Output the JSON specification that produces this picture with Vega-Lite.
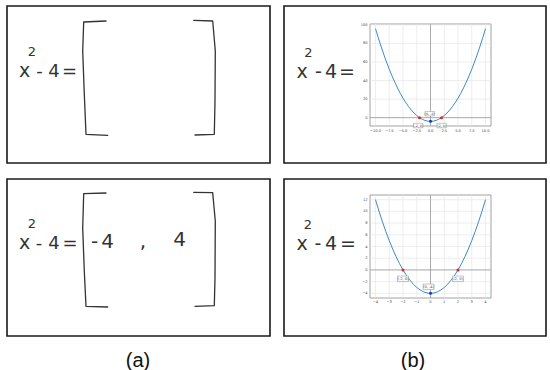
{
  "$schema": "https://vega.github.io/schema/vega-lite/v6.json",
  "background": "white",
  "padding": {"left": 6, "top": 5, "right": 0, "bottom": 0},
  "autosize": {"type": "pad"},
  "spacing": 14,
  "config": {
    "view": {"stroke": "#1a1a1a", "strokeWidth": 1.6},
    "axis": {"disable": true},
    "text": {"font": "DejaVu Sans", "color": "#333"}
  },
  "datasets": {
    "bracketsA1": [
      {"b": "L", "i": 0, "x": 99, "y": 15}, {"b": "L", "i": 1, "x": 76.7, "y": 16}, {"b": "L", "i": 2, "x": 75.7, "y": 45}, {"b": "L", "i": 3, "x": 77.3, "y": 88}, {"b": "L", "i": 4, "x": 79, "y": 128.3}, {"b": "L", "i": 5, "x": 100.7, "y": 129.3},
      {"b": "R", "i": 0, "x": 186.7, "y": 14.3}, {"b": "R", "i": 1, "x": 205.7, "y": 15}, {"b": "R", "i": 2, "x": 208.3, "y": 45}, {"b": "R", "i": 3, "x": 208, "y": 95}, {"b": "R", "i": 4, "x": 207.3, "y": 128.3}, {"b": "R", "i": 5, "x": 188, "y": 129}
    ],
    "bracketsA2": [
      {"b": "L", "i": 0, "x": 99, "y": 14}, {"b": "L", "i": 1, "x": 76.7, "y": 14.7}, {"b": "L", "i": 2, "x": 75.7, "y": 49}, {"b": "L", "i": 3, "x": 77.3, "y": 92.3}, {"b": "L", "i": 4, "x": 79, "y": 127.3}, {"b": "L", "i": 5, "x": 100.7, "y": 128},
      {"b": "R", "i": 0, "x": 186.7, "y": 13.3}, {"b": "R", "i": 1, "x": 205.7, "y": 13.7}, {"b": "R", "i": 2, "x": 208.3, "y": 42.3}, {"b": "R", "i": 3, "x": 208, "y": 99}, {"b": "R", "i": 4, "x": 207.3, "y": 126.7}, {"b": "R", "i": 5, "x": 188, "y": 127.3}
    ],
    "b1curve": [
      {"x": -10, "y": 96}, {"x": -9.5, "y": 86.25}, {"x": -9, "y": 77}, {"x": -8.5, "y": 68.25}, {"x": -8, "y": 60}, {"x": -7.5, "y": 52.25}, {"x": -7, "y": 45}, {"x": -6.5, "y": 38.25}, {"x": -6, "y": 32}, {"x": -5.5, "y": 26.25}, {"x": -5, "y": 21}, {"x": -4.5, "y": 16.25}, {"x": -4, "y": 12}, {"x": -3.5, "y": 8.25}, {"x": -3, "y": 5}, {"x": -2.5, "y": 2.25}, {"x": -2, "y": 0}, {"x": -1.5, "y": -1.75}, {"x": -1, "y": -3}, {"x": -0.5, "y": -3.75}, {"x": 0, "y": -4},
      {"x": 0.5, "y": -3.75}, {"x": 1, "y": -3}, {"x": 1.5, "y": -1.75}, {"x": 2, "y": 0}, {"x": 2.5, "y": 2.25}, {"x": 3, "y": 5}, {"x": 3.5, "y": 8.25}, {"x": 4, "y": 12}, {"x": 4.5, "y": 16.25}, {"x": 5, "y": 21}, {"x": 5.5, "y": 26.25}, {"x": 6, "y": 32}, {"x": 6.5, "y": 38.25}, {"x": 7, "y": 45}, {"x": 7.5, "y": 52.25}, {"x": 8, "y": 60}, {"x": 8.5, "y": 68.25}, {"x": 9, "y": 77}, {"x": 9.5, "y": 86.25}, {"x": 10, "y": 96}
    ],
    "b2curve": [
      {"x": -4, "y": 12}, {"x": -3.75, "y": 10.0625}, {"x": -3.5, "y": 8.25}, {"x": -3.25, "y": 6.5625}, {"x": -3, "y": 5}, {"x": -2.75, "y": 3.5625}, {"x": -2.5, "y": 2.25}, {"x": -2.25, "y": 1.0625}, {"x": -2, "y": 0}, {"x": -1.75, "y": -0.9375}, {"x": -1.5, "y": -1.75}, {"x": -1.25, "y": -2.4375}, {"x": -1, "y": -3}, {"x": -0.75, "y": -3.4375}, {"x": -0.5, "y": -3.75}, {"x": -0.25, "y": -3.9375}, {"x": 0, "y": -4},
      {"x": 0.25, "y": -3.9375}, {"x": 0.5, "y": -3.75}, {"x": 0.75, "y": -3.4375}, {"x": 1, "y": -3}, {"x": 1.25, "y": -2.4375}, {"x": 1.5, "y": -1.75}, {"x": 1.75, "y": -0.9375}, {"x": 2, "y": 0}, {"x": 2.25, "y": 1.0625}, {"x": 2.5, "y": 2.25}, {"x": 2.75, "y": 3.5625}, {"x": 3, "y": 5}, {"x": 3.25, "y": 6.5625}, {"x": 3.5, "y": 8.25}, {"x": 3.75, "y": 10.0625}, {"x": 4, "y": 12}
    ],
    "b1frame": [{"x": -11, "x2": 11, "y": -9, "y2": 101}],
    "b1zero": [{"x": 0, "x2": 0, "y": -9, "y2": 101}, {"x": -11, "x2": 11, "y": 0, "y2": 0}],
    "b1xt": [
      {"x": -10, "y": -9, "y2": 101, "lab": "−10.0"}, {"x": -7.5, "y": -9, "y2": 101, "lab": "−7.5"}, {"x": -5, "y": -9, "y2": 101, "lab": "−5.0"}, {"x": -2.5, "y": -9, "y2": 101, "lab": "−2.5"}, {"x": 0, "y": -9, "y2": 101, "lab": "0.0"}, {"x": 2.5, "y": -9, "y2": 101, "lab": "2.5"}, {"x": 5, "y": -9, "y2": 101, "lab": "5.0"}, {"x": 7.5, "y": -9, "y2": 101, "lab": "7.5"}, {"x": 10, "y": -9, "y2": 101, "lab": "10.0"}
    ],
    "b1yt": [
      {"y": 0, "x": -11, "x2": 11, "lab": "0"}, {"y": 20, "x": -11, "x2": 11, "lab": "20"}, {"y": 40, "x": -11, "x2": 11, "lab": "40"}, {"y": 60, "x": -11, "x2": 11, "lab": "60"}, {"y": 80, "x": -11, "x2": 11, "lab": "80"}, {"y": 100, "x": -11, "x2": 11, "lab": "100"}
    ],
    "b2frame": [{"x": -4.4, "x2": 4.4, "y": -4.8, "y2": 12.8}],
    "b2zero": [{"x": 0, "x2": 0, "y": -4.8, "y2": 12.8}, {"x": -4.4, "x2": 4.4, "y": 0, "y2": 0}],
    "b2xt": [
      {"x": -4, "y": -4.8, "y2": 12.8, "lab": "−4"}, {"x": -3, "y": -4.8, "y2": 12.8, "lab": "−3"}, {"x": -2, "y": -4.8, "y2": 12.8, "lab": "−2"}, {"x": -1, "y": -4.8, "y2": 12.8, "lab": "−1"}, {"x": 0, "y": -4.8, "y2": 12.8, "lab": "0"}, {"x": 1, "y": -4.8, "y2": 12.8, "lab": "1"}, {"x": 2, "y": -4.8, "y2": 12.8, "lab": "2"}, {"x": 3, "y": -4.8, "y2": 12.8, "lab": "3"}, {"x": 4, "y": -4.8, "y2": 12.8, "lab": "4"}
    ],
    "b2yt": [
      {"y": -4, "x": -4.4, "x2": 4.4, "lab": "−4"}, {"y": -2, "x": -4.4, "x2": 4.4, "lab": "−2"}, {"y": 0, "x": -4.4, "x2": 4.4, "lab": "0"}, {"y": 2, "x": -4.4, "x2": 4.4, "lab": "2"}, {"y": 4, "x": -4.4, "x2": 4.4, "lab": "4"}, {"y": 6, "x": -4.4, "x2": 4.4, "lab": "6"}, {"y": 8, "x": -4.4, "x2": 4.4, "lab": "8"}, {"y": 10, "x": -4.4, "x2": 4.4, "lab": "10"}, {"y": 12, "x": -4.4, "x2": 4.4, "lab": "12"}
    ],
    "roots": [{"x": -2, "y": 0}, {"x": 2, "y": 0}],
    "vertex": [{"x": 0, "y": -4}],
    "b1ann": [{"x": -2.24, "y": -8.5, "lab": "(-2, 0)"}, {"x": 2.03, "y": -8.5, "lab": "(2, 0)"}, {"x": -0.15, "y": 4.3, "lab": "(0, -4)"}],
    "b2ann": [{"x": -2.0, "y": -1.52, "lab": "(-2, 0)"}, {"x": 2.0, "y": -1.52, "lab": "(2, 0)"}, {"x": -0.14, "y": -2.89, "lab": "(0, -4)"}]
  },
  "vconcat": [
    {
      "spacing": 12,
      "hconcat": [
        {
          "width": 263, "height": 157,
          "encoding": {
            "x": {"field": "x", "type": "quantitative", "scale": {"domain": [0, 263], "nice": false, "zero": false}, "axis": null},
            "y": {"field": "y", "type": "quantitative", "scale": {"domain": [157, 0], "nice": false, "zero": false}, "axis": null}
          },
          "layer": [
            {"data": {"name": "bracketsA1"}, "mark": {"type": "line", "stroke": "#333", "strokeWidth": 1.3, "strokeCap": "round", "strokeJoin": "round"}, "encoding": {"order": {"field": "i"}, "detail": {"field": "b"}}},
            {"data": {"values": [{"t": "x", "x": 17.5, "y": 71}]}, "mark": {"type": "text", "fontSize": 19, "align": "center", "baseline": "alphabetic"}, "encoding": {"text": {"field": "t"}}},
            {"data": {"values": [{"t": "2", "x": 25, "y": 50}]}, "mark": {"type": "text", "fontSize": 13, "align": "center", "baseline": "alphabetic"}, "encoding": {"text": {"field": "t"}}},
            {"data": {"values": [{"t": "-", "x": 32.5, "y": 71}, {"t": "4", "x": 47, "y": 71}, {"t": "=", "x": 62.5, "y": 71}]}, "mark": {"type": "text", "fontSize": 18, "align": "center", "baseline": "alphabetic"}, "encoding": {"text": {"field": "t"}}}
          ]
        },
        {
          "width": 262, "height": 157,
          "resolve": {"scale": {"x": "independent", "y": "independent"}},
          "layer": [
            {
              "encoding": {
                "x": {"field": "x", "type": "quantitative", "scale": {"domain": [0, 262], "nice": false, "zero": false}, "axis": null},
                "y": {"field": "y", "type": "quantitative", "scale": {"domain": [157, 0], "nice": false, "zero": false}, "axis": null}
              },
              "layer": [
                {"data": {"values": [{"t": "x", "x": 18, "y": 72}]}, "mark": {"type": "text", "fontSize": 19, "align": "center", "baseline": "alphabetic"}, "encoding": {"text": {"field": "t"}}},
                {"data": {"values": [{"t": "2", "x": 24.5, "y": 51}]}, "mark": {"type": "text", "fontSize": 13, "align": "center", "baseline": "alphabetic"}, "encoding": {"text": {"field": "t"}}},
                {"data": {"values": [{"t": "-", "x": 34.5, "y": 72}, {"t": "4", "x": 47, "y": 72}, {"t": "=", "x": 63, "y": 72}]}, "mark": {"type": "text", "fontSize": 19, "align": "center", "baseline": "alphabetic"}, "encoding": {"text": {"field": "t"}}}
              ]
            },
            {
              "encoding": {
                "x": {"field": "x", "type": "quantitative", "scale": {"domain": [-26.64, 21], "nice": false, "zero": false}, "axis": null},
                "y": {"field": "y", "type": "quantitative", "scale": {"domain": [-48.9, 120.41], "nice": false, "zero": false}, "axis": null}
              },
              "layer": [
                {"data": {"name": "b1frame"}, "mark": {"type": "rect", "fill": "white", "stroke": "#7a7a7a", "strokeWidth": 0.7}, "encoding": {"x2": {"field": "x2"}, "y2": {"field": "y2"}}},
                {"data": {"name": "b1xt"}, "mark": {"type": "rule", "stroke": "#e2e2e2", "strokeWidth": 0.6}, "encoding": {"y2": {"field": "y2"}}},
                {"data": {"name": "b1yt"}, "mark": {"type": "rule", "stroke": "#e2e2e2", "strokeWidth": 0.6}, "encoding": {"x2": {"field": "x2"}}},
                {"data": {"name": "b1zero"}, "mark": {"type": "rule", "stroke": "#9a9a9a", "strokeWidth": 0.8}, "encoding": {"x2": {"field": "x2"}, "y2": {"field": "y2"}}},
                {"data": {"name": "b1xt"}, "mark": {"type": "text", "fontSize": 3.6, "baseline": "middle", "align": "center", "dy": 5, "color": "#444"}, "encoding": {"text": {"field": "lab"}}},
                {"data": {"name": "b1yt"}, "mark": {"type": "text", "fontSize": 3.6, "baseline": "middle", "align": "right", "dx": -2.5, "color": "#444"}, "encoding": {"text": {"field": "lab"}}},
                {"data": {"name": "b1curve"}, "mark": {"type": "line", "stroke": "#3f8ac4", "strokeWidth": 1, "interpolate": "monotone"}},
                {"data": {"name": "roots"}, "mark": {"type": "point", "filled": true, "color": "#e0262a", "size": 9, "opacity": 1}},
                {"data": {"name": "vertex"}, "mark": {"type": "point", "filled": true, "color": "#1a2fd8", "size": 9, "opacity": 1}},
                {"data": {"name": "b1ann"}, "mark": {"type": "point", "shape": "M-1,-0.47L1,-0.47L1,0.47L-1,0.47Z", "size": 90, "filled": true, "fill": "white", "stroke": "#8a8a8a", "strokeWidth": 0.5, "opacity": 1}},
                {"data": {"name": "b1ann"}, "mark": {"type": "text", "fontSize": 3.2, "baseline": "middle", "align": "center", "color": "#444"}, "encoding": {"text": {"field": "lab"}}}
              ]
            }
          ]
        }
      ]
    },
    {
      "spacing": 12,
      "hconcat": [
        {
          "width": 263, "height": 157,
          "encoding": {
            "x": {"field": "x", "type": "quantitative", "scale": {"domain": [0, 263], "nice": false, "zero": false}, "axis": null},
            "y": {"field": "y", "type": "quantitative", "scale": {"domain": [157, 0], "nice": false, "zero": false}, "axis": null}
          },
          "layer": [
            {"data": {"name": "bracketsA2"}, "mark": {"type": "line", "stroke": "#333", "strokeWidth": 1.3, "strokeCap": "round", "strokeJoin": "round"}, "encoding": {"order": {"field": "i"}, "detail": {"field": "b"}}},
            {"data": {"values": [{"t": "x", "x": 17.5, "y": 70}]}, "mark": {"type": "text", "fontSize": 19, "align": "center", "baseline": "alphabetic"}, "encoding": {"text": {"field": "t"}}},
            {"data": {"values": [{"t": "2", "x": 25, "y": 49}]}, "mark": {"type": "text", "fontSize": 13, "align": "center", "baseline": "alphabetic"}, "encoding": {"text": {"field": "t"}}},
            {"data": {"values": [{"t": "-", "x": 32, "y": 70}, {"t": "4", "x": 47, "y": 70}, {"t": "=", "x": 63, "y": 70}]}, "mark": {"type": "text", "fontSize": 18, "align": "center", "baseline": "alphabetic"}, "encoding": {"text": {"field": "t"}}},
            {"data": {"values": [{"t": "-", "x": 87.5, "y": 69}, {"t": "4", "x": 100.5, "y": 69}, {"t": ",", "x": 136, "y": 69}, {"t": "4", "x": 172.5, "y": 67}]}, "mark": {"type": "text", "fontSize": 20, "align": "center", "baseline": "alphabetic"}, "encoding": {"text": {"field": "t"}}}
          ]
        },
        {
          "width": 262, "height": 157,
          "resolve": {"scale": {"x": "independent", "y": "independent"}},
          "layer": [
            {
              "encoding": {
                "x": {"field": "x", "type": "quantitative", "scale": {"domain": [0, 262], "nice": false, "zero": false}, "axis": null},
                "y": {"field": "y", "type": "quantitative", "scale": {"domain": [157, 0], "nice": false, "zero": false}, "axis": null}
              },
              "layer": [
                {"data": {"values": [{"t": "x", "x": 18, "y": 71}]}, "mark": {"type": "text", "fontSize": 19, "align": "center", "baseline": "alphabetic"}, "encoding": {"text": {"field": "t"}}},
                {"data": {"values": [{"t": "2", "x": 24, "y": 50}]}, "mark": {"type": "text", "fontSize": 13, "align": "center", "baseline": "alphabetic"}, "encoding": {"text": {"field": "t"}}},
                {"data": {"values": [{"t": "-", "x": 34, "y": 71}, {"t": "4", "x": 47, "y": 71}, {"t": "=", "x": 64, "y": 71}]}, "mark": {"type": "text", "fontSize": 19, "align": "center", "baseline": "alphabetic"}, "encoding": {"text": {"field": "t"}}}
              ]
            },
            {
              "encoding": {
                "x": {"field": "x", "type": "quantitative", "scale": {"domain": [-10.655, 8.4], "nice": false, "zero": false}, "axis": null},
                "y": {"field": "y", "type": "quantitative", "scale": {"domain": [-11.293, 15.534], "nice": false, "zero": false}, "axis": null}
              },
              "layer": [
                {"data": {"name": "b2frame"}, "mark": {"type": "rect", "fill": "white", "stroke": "#7a7a7a", "strokeWidth": 0.7}, "encoding": {"x2": {"field": "x2"}, "y2": {"field": "y2"}}},
                {"data": {"name": "b2xt"}, "mark": {"type": "rule", "stroke": "#e2e2e2", "strokeWidth": 0.6}, "encoding": {"y2": {"field": "y2"}}},
                {"data": {"name": "b2yt"}, "mark": {"type": "rule", "stroke": "#e2e2e2", "strokeWidth": 0.6}, "encoding": {"x2": {"field": "x2"}}},
                {"data": {"name": "b2zero"}, "mark": {"type": "rule", "stroke": "#9a9a9a", "strokeWidth": 0.8}, "encoding": {"x2": {"field": "x2"}, "y2": {"field": "y2"}}},
                {"data": {"name": "b2xt"}, "mark": {"type": "text", "fontSize": 3.6, "baseline": "middle", "align": "center", "dy": 4, "color": "#444"}, "encoding": {"text": {"field": "lab"}}},
                {"data": {"name": "b2yt"}, "mark": {"type": "text", "fontSize": 3.6, "baseline": "middle", "align": "right", "dx": -2.5, "color": "#444"}, "encoding": {"text": {"field": "lab"}}},
                {"data": {"name": "b2curve"}, "mark": {"type": "line", "stroke": "#3f8ac4", "strokeWidth": 1, "interpolate": "monotone"}},
                {"data": {"name": "roots"}, "mark": {"type": "point", "filled": true, "color": "#e0262a", "size": 9, "opacity": 1}},
                {"data": {"name": "vertex"}, "mark": {"type": "point", "filled": true, "color": "#1a2fd8", "size": 9, "opacity": 1}},
                {"data": {"name": "b2ann"}, "mark": {"type": "point", "shape": "M-1,-0.5L1,-0.5L1,0.5L-1,0.5Z", "size": 121, "filled": true, "fill": "white", "stroke": "#8a8a8a", "strokeWidth": 0.5, "opacity": 1}},
                {"data": {"name": "b2ann"}, "mark": {"type": "text", "fontSize": 3.6, "baseline": "middle", "align": "center", "color": "#444"}, "encoding": {"text": {"field": "lab"}}}
              ]
            }
          ]
        }
      ]
    },
    {
      "width": 537, "height": 20,
      "view": {"stroke": null},
      "data": {"values": [{"t": "(a)", "x": 131, "y": 12}, {"t": "(b)", "x": 406, "y": 12}]},
      "mark": {"type": "text", "font": "Liberation Sans", "fontSize": 20, "color": "#111", "align": "center", "baseline": "alphabetic"},
      "encoding": {
        "x": {"field": "x", "type": "quantitative", "scale": {"domain": [0, 537], "nice": false, "zero": false}, "axis": null},
        "y": {"field": "y", "type": "quantitative", "scale": {"domain": [20, 0], "nice": false, "zero": false}, "axis": null},
        "text": {"field": "t"}
      }
    }
  ]
}
